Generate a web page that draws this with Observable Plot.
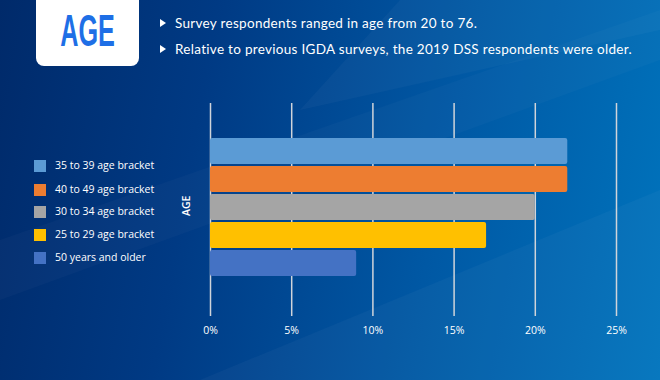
<!DOCTYPE html>
<html>
<head>
<meta charset="utf-8">
<script src="https://cdn.jsdelivr.net/npm/d3@7"></script>
<script src="https://cdn.jsdelivr.net/npm/@observablehq/plot@0.6"></script>
<style>
  html, body { margin: 0; padding: 0; }
  #wrap {
    position: relative; width: 660px; height: 380px; overflow: hidden;
    background: linear-gradient(100deg, #002a6a 0%, #003a84 30%, #0058a4 65%, #0074bd 100%);
    font-family: Lato, "Open Sans", sans-serif; color: #fff;
  }
  .stripe { position: absolute; pointer-events: none; }
  #titlebox {
    position: absolute; left: 36px; top: -10px; width: 103px; height: 76px;
    background: #fff; border-radius: 8px;
  }
  #titlebox span {
    position: absolute; left: 0; right: 0; top: 18px; text-align: center;
    font-family: "Liberation Sans", "DejaVu Sans", sans-serif;
    font-weight: bold; font-size: 45px; line-height: 45px; color: #1e6fe6;
    transform: scaleX(0.56); transform-origin: 50% 50%; display: block;
  }
  .bullet { position: absolute; left: 160px; font-size: 13.5px; letter-spacing: 0.3px; white-space: nowrap; font-family: Lato, sans-serif; }
  .bullet::before {
    content: ""; position: absolute; left: 0; top: 4px;
    border-left: 6px solid #fff; border-top: 4px solid transparent; border-bottom: 4px solid transparent;
  }
  .bullet span { margin-left: 15px; }
  #legend { position: absolute; left: 34px; top: 0; }
  .li { position: absolute; left: 0; white-space: nowrap; font-family: "Open Sans", sans-serif; font-size: 10.5px; }
  .li i { position: absolute; left: 0; top: 0; width: 12px; height: 12px; }
  .li span { position: absolute; left: 21px; top: -2px; }
  #chart { position: absolute; left: 0; top: 0; }
</style>
</head>
<body>
<div id="wrap">
  <svg class="stripe" width="660" height="380" style="left:0;top:0">
    <polygon points="0,240 660,10 660,60 0,300" fill="#ffffff" opacity="0.025"/>
    <polygon points="200,380 660,190 660,380" fill="#ffffff" opacity="0.03"/>
    <polygon points="400,0 660,0 660,30 300,110" fill="#ffffff" opacity="0.03"/>
  </svg>
  <div id="titlebox"><span>AGE</span></div>
  <div class="bullet" style="top:15px"><span>Survey respondents ranged in age from 20 to 76.</span></div>
  <div class="bullet" style="top:41px"><span>Relative to previous IGDA surveys, the 2019 DSS respondents were older.</span></div>
  <div id="legend"></div>
  <div id="chart"></div>
</div>
<script>
const categories = ["35 to 39 age bracket", "40 to 49 age bracket", "30 to 34 age bracket", "25 to 29 age bracket", "50 years and older"];
const values = [22, 22, 20, 17, 9];
const colors = ["#5b9bd5", "#ed7d31", "#a5a5a5", "#ffc000", "#4472c4"];
const xTicks = [0, 5, 10, 15, 20, 25];

const data = categories.map((c, i) => ({category: c, value: values[i]}));

const legend = document.getElementById("legend");
const legendTops = [160, 184, 206, 229, 252];
categories.forEach((c, i) => {
  const d = document.createElement("div");
  d.className = "li";
  d.style.top = legendTops[i] + "px";
  d.innerHTML = `<i style="background:${colors[i]}"></i><span>${c}</span>`;
  legend.appendChild(d);
});

const chart = Plot.plot({
  width: 660,
  height: 380,
  marginLeft: 210,
  marginRight: 44,
  marginTop: 103,
  marginBottom: 64,
  style: {background: "transparent", color: "#fff", fontFamily: "'Open Sans', sans-serif", fontSize: "10.5px"},
  x: {domain: [0, 25], ticks: xTicks, tickFormat: d => d + "%", tickSize: 0, tickPadding: 10, label: null},
  y: {domain: categories, range: [137, 277], paddingInner: 0.07, paddingOuter: 0, axis: null},
  color: {domain: categories, range: colors},
  marks: [
    Plot.ruleX(xTicks, {stroke: "#d0d4da", strokeWidth: 1.5}),
    Plot.barX(data, {x: "value", y: "category", fill: "category", rx: 2}),
    Plot.text(["AGE"], {frameAnchor: "left", dx: -24, dy: 6, rotate: -90, fill: "#fff", fontSize: 10.5, fontWeight: 600})
  ]
});
document.getElementById("chart").appendChild(chart);
</script>
</body>
</html>
